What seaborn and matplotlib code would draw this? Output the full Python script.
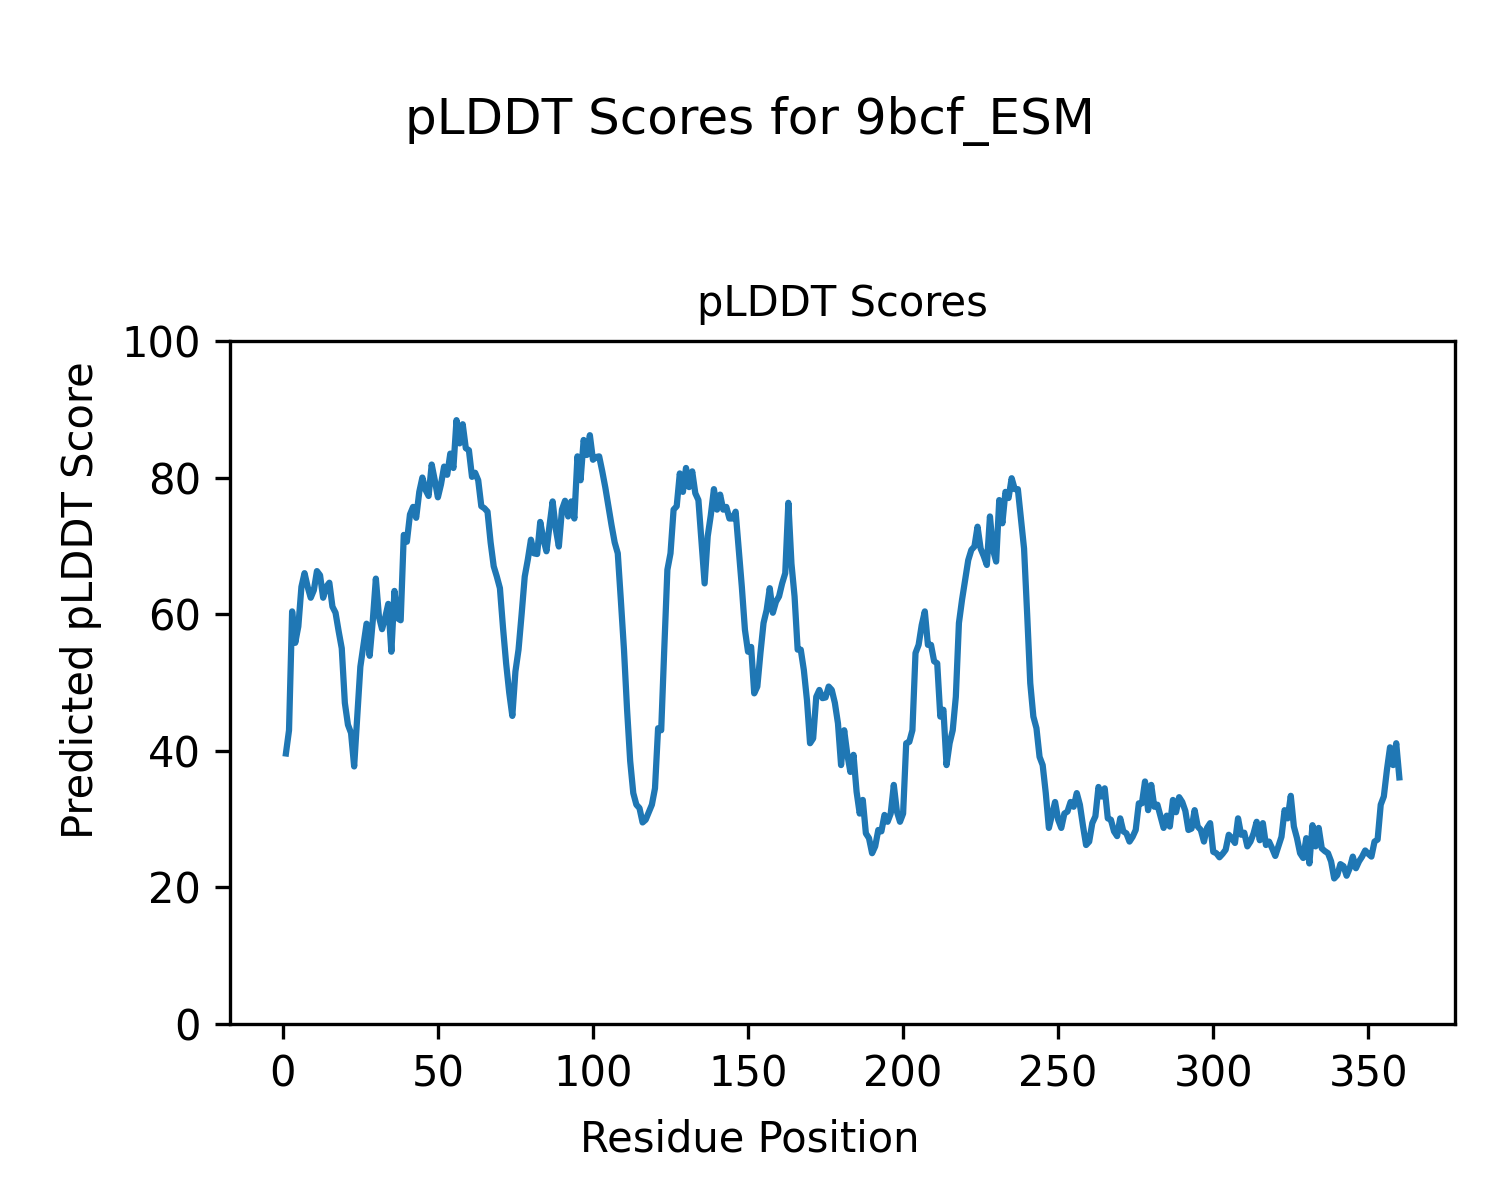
import numpy as np
import pandas as pd
import matplotlib
matplotlib.use("Agg")
import matplotlib.pyplot as plt
import seaborn as sns

protein = "9bcf_ESM"

# pLDDT per residue (residues 1..360)
plddt = [
    39.6, 43.0, 60.4, 55.8, 58.2, 64.0, 66.0, 64.0, 62.4,
    63.5, 66.3, 65.7, 62.4, 64.0, 64.6, 61.1, 60.2, 57.5, 55.0,
    47.0, 43.8, 42.6, 37.7, 45.0, 52.3, 55.5, 58.6, 53.9, 59.0,
    65.2, 59.6, 57.8, 59.5, 61.5, 54.5, 63.4, 59.4, 59.1, 71.6,
    70.6, 74.6, 75.7, 74.1, 77.9, 80.0, 78.2, 77.3, 81.9, 79.6,
    77.1, 79.0, 81.6, 80.4, 83.5, 81.4, 88.4, 85.0, 87.8, 84.3,
    84.0, 80.1, 80.7, 79.6, 75.8, 75.5, 75.0, 70.5, 67.0, 65.5,
    63.8, 58.0, 52.8, 48.5, 45.1, 51.6, 54.8, 60.0, 65.5, 68.0,
    70.9, 68.9, 68.8, 73.5, 71.0, 69.2, 73.0, 76.5, 72.5, 69.9,
    75.3, 76.6, 74.3, 76.5, 74.0, 83.1, 79.6, 85.5, 83.3, 86.2,
    82.6, 83.0, 83.1, 80.9, 78.5, 75.7, 73.0, 70.5, 68.9, 62.0,
    54.8, 46.0, 38.5, 33.8, 32.1, 31.6, 29.5, 29.9, 31.0, 32.1,
    34.5, 43.3, 43.0, 55.0, 66.5, 68.9, 75.3, 75.8, 80.6, 77.9,
    81.4, 78.6, 80.9, 77.7, 76.7, 70.5, 64.5, 71.4, 74.5, 78.3,
    75.3, 77.5, 75.3, 75.7, 74.0, 74.0, 75.0, 69.4, 64.0, 57.7,
    54.5, 55.2, 48.4, 49.4, 54.3, 58.7, 60.6, 63.8, 60.2, 61.8,
    62.6, 64.5, 66.0, 76.3, 67.4, 62.6, 54.8, 54.8, 51.8, 47.4,
    41.1, 41.8, 47.9, 48.9, 47.7, 47.8, 49.4, 48.9, 47.0, 44.0,
    37.9, 43.0, 39.5, 36.9, 39.4, 34.0, 30.8, 32.8, 27.9, 27.2,
    25.0, 26.0, 28.4, 28.2, 30.6, 29.6, 30.8, 35.0, 31.1, 29.6,
    30.8, 41.1, 41.3, 43.0, 54.3, 55.5, 58.4, 60.4, 55.5, 55.5,
    53.1, 52.8, 45.0, 46.0, 37.9, 41.1, 43.0, 47.9, 58.7, 62.1,
    65.0, 67.9, 69.4, 69.9, 72.8, 69.6, 68.5, 67.2, 74.3, 69.4,
    67.7, 76.7, 73.3, 77.9, 77.0, 79.9, 78.3, 78.3, 74.0, 69.6,
    60.0, 49.9, 45.0, 43.3, 39.1, 37.9, 33.8, 28.7, 30.6, 32.5,
    29.9, 28.7, 30.8, 31.1, 32.5, 31.8, 33.8, 32.1, 29.0, 26.2,
    26.7, 29.4, 30.4, 34.7, 33.3, 34.5, 30.1, 29.9, 28.2, 27.5,
    30.1, 28.2, 27.9, 26.7, 27.4, 28.4, 32.3, 32.3, 35.5, 31.3,
    35.0, 31.8, 32.1, 30.4, 28.7, 30.5, 28.9, 32.8, 31.0, 33.2,
    32.5, 31.2, 28.4, 28.6, 31.3, 28.9, 28.4, 26.7, 28.7, 29.4,
    25.2, 25.0, 24.4, 24.9, 25.5, 27.7, 27.2, 26.5, 30.1, 27.7,
    28.0, 26.0, 26.7, 27.9, 29.6, 26.9, 29.4, 26.2, 26.7, 25.7,
    24.6, 26.0, 27.4, 31.3, 30.1, 33.4, 28.9, 27.2, 25.0, 24.3,
    27.2, 23.5, 29.1, 26.0, 28.7, 25.7, 25.3, 25.0, 23.8, 21.3,
    21.8, 23.4, 23.1, 21.7, 22.8, 24.5, 22.8, 23.8, 24.5, 25.4,
    24.9, 24.5, 26.7, 27.0, 32.1, 33.3, 37.2, 40.5, 37.9, 41.1,
    36.1,
]
residues = list(range(1, len(plddt) + 1))

df = pd.DataFrame({"Residue": residues, "pLDDT": plddt})

fig = plt.figure(figsize=(5, 4), dpi=300)
ax = fig.add_axes([0.1535, 0.1467, 0.8165, 0.5692])
sns.lineplot(data=df, x="Residue", y="pLDDT", ax=ax, color="#1f77b4", linewidth=1.5)

ax.set_ylim(0, 100)
ax.set_title("pLDDT Scores", fontsize=10)
ax.set_xlabel("")
ax.set_ylabel("")
fig.text(0.5, 0.04, "Residue Position", ha="center")
fig.text(0.04, 0.5, "Predicted pLDDT Score", va="center", rotation="vertical")
fig.suptitle(f"pLDDT Scores for {protein}", fontsize=12, y=0.92)

fig.savefig("out.png", dpi=300)
